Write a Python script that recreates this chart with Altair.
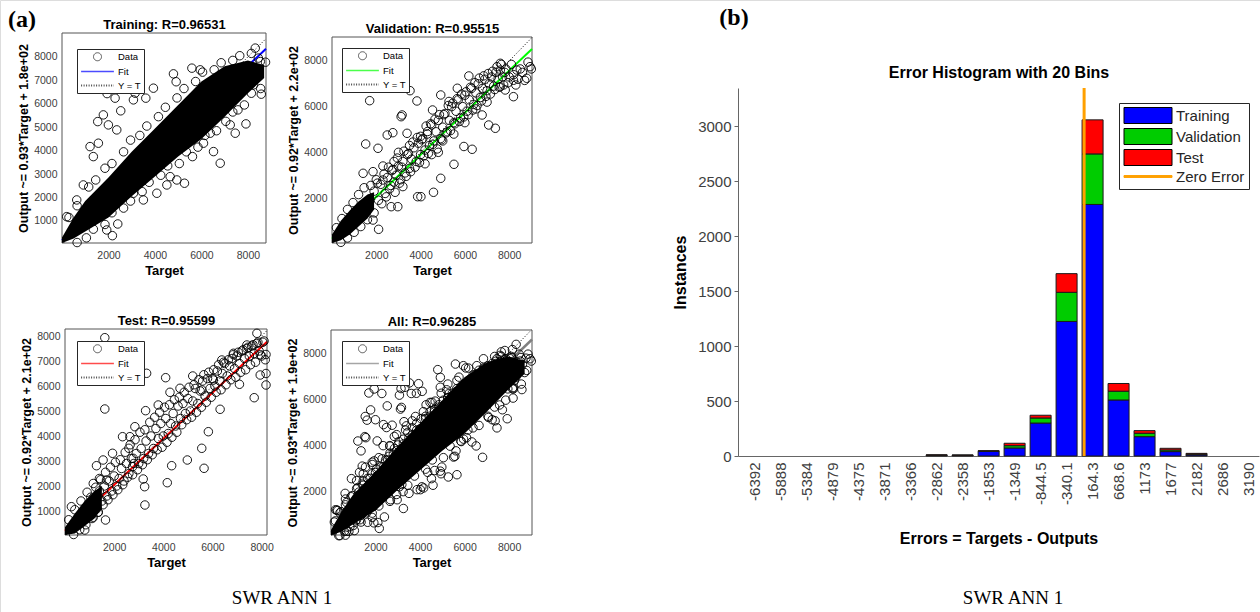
import altair as alt
import pandas as pd

FONT = "Liberation Sans"
SERIF = "Liberation Serif"
LABEL_GRAY = "#404040"
W_TOTAL, H_TOTAL = 1260, 612

# ---------------- Training panel ----------------
TR_X = [1538, 1566, 2528, 1940, 2285, 3074, 3146, 3935, 3607, 4797, 4913, 5590, 5948, 6810, 5271,
        4943, 4655, 3504, 3074, 2169, 1925, 2400, 7917, 8534, 8760, 8577, 8245, 7573, 7240, 7456,
        6380, 6521, 5616, 918, 634, 203, 1207, 1780, 1996, 2357, 1349, 4082, 4513, 6090, 6810,
        7672, 8318,
        300, 650, 1150, 1450, 1850, 2150, 2650, 2950, 3350, 3650, 4150, 4450, 4950, 5250, 5750,
        6050, 6550, 6850, 7350, 7650, 8150, 8450,
        650, 1050, 1350, 1850, 2150, 2650, 2950, 3450, 3750, 4250, 4550, 5050, 5350, 5850, 6150,
        6650, 7050, 7350, 7850, 8150, 8550]
TR_Y = [5240, 4318, 5700, 6435, 6240, 6167, 6453, 6666, 6240, 7277, 6940, 7520, 7448, 3464, 2610,
        2750, 2891, 1897, 2183, 373, 616, 872, 5142, 7802, 7774, 6410, 6807, 5740, 5100, 4745,
        4745, 3960, 3746, 2537, 1897, 1184, 4173, 5526, 5099, 4886, 3746, 2183, 2537, 4318, 5740,
        7162, 8375,
        1150, 1650, 2450, 2750, 3250, 3450, 3950, 4450, 4650, 5050, 5450, 5850, 6250, 6650, 6950,
        7350, 7450, 7750, 7850, 8050, 8150, 7950,
        80, 280, 650, 850, 1350, 1550, 1850, 2250, 2650, 2950, 3350, 3450, 3950, 4150, 4650,
        4850, 5250, 5650, 5950, 6450, 6650]
TR_BAND_X = [0, 500, 1000, 2000, 3000, 4000, 5000, 6000, 7000, 8000, 8700]
TR_BAND_LO = [60, 250, 550, 1150, 2050, 2900, 3750, 4500, 5450, 6450, 7100]
TR_BAND_HI = [300, 1150, 1850, 2850, 3950, 4950, 5950, 6950, 7600, 7850, 7650]

# ---------------- Validation panel ----------------
VA_X = [1700, 1521, 2493, 2747, 3120, 3165, 3523, 3836, 3388, 2076, 1404, 1852, 2300, 1852, 2104,
        2672, 2971, 3867, 4015, 4583, 4910, 5507, 6328, 6778, 7074, 7374, 8193, 7821, 8941, 9000,
        8792, 8345, 7597, 8193, 6179, 5658, 4910, 4539, 5283, 4315, 5955, 7597,
        1900, 2100, 2200, 2400, 2500, 2600, 2700, 2800, 2900, 3000, 3100, 3200, 3300, 3400, 3500,
        3600, 3700, 3800, 3900, 4000, 4100, 4200, 4300, 4400, 4500, 4600, 4700, 4800, 4900, 5000,
        5100, 5200, 5300, 5400, 5500, 5600, 5700, 5800, 5900, 6000, 6100, 6200, 6300, 6400, 6500,
        6600, 6700, 6800, 6900, 7000, 7100, 7200, 7300, 7400, 7500, 7600, 7700, 7800, 8000, 8200,
        8400, 8600,
        2000, 2300, 3000, 3500, 4000, 4500, 5000, 5500, 6000, 6500, 7000, 3200, 2800, 4200, 4800,
        2050, 2250, 2350, 2450, 2550, 2650, 2750, 2850, 2950, 3050, 3150, 3250, 3350, 3450, 3550,
        3650, 3750, 3850, 3950, 4050, 4150, 4250, 4350, 4450, 4550, 4650, 4750, 4850, 4950, 5050,
        5150, 5250, 5350, 5450, 5550, 5650, 5750, 5850, 5950, 6050, 6150, 6250, 6350, 6450, 6550,
        6650, 6750, 6850, 6950, 7050, 7150, 7250, 7350, 7450, 7550, 7650, 7750, 7850, 7950, 8100,
        8300, 8500, 8700, 8850,
        200, 450, 700, 950, 1200, 1450, 1750, 400, 700, 1000, 1300, 1600, 1900]
VA_Y = [6262, 4365, 4759, 4860, 5561, 5635, 6700, 6249, 4833, 4177, 3082, 3153, 2788, 1036, 629,
        1620, 1620, 2058, 2058, 2250, 2863, 3476, 4133, 5635, 5197, 5053, 6437, 6730, 7751, 7650,
        7243, 7606, 7898, 7155, 7344, 6805, 6511, 5854, 6227, 4912, 4256, 6875,
        2300, 1900, 2600, 2200, 2900, 2400, 3200, 2700, 3000, 3400, 2800, 3600, 3100, 3900, 3300,
        3700, 4200, 3600, 4400, 3900, 4600, 4100, 4800, 4300, 5200, 4500, 4900, 5400, 4600, 5100,
        5700, 4900, 5400, 6000, 5300, 5800, 6300, 5500, 6000, 6500, 5800, 6300, 6800, 6100, 6600,
        7000, 6400, 6800, 7200, 6700, 7000, 7300, 6900, 7500, 7200, 7600, 7300, 7500, 7300, 7400,
        7200, 7500,
        2800, 3400, 4000, 4300, 4700, 3900, 4500, 4800, 5300, 5900, 6200, 2500, 3600, 3500, 4000,
        2650, 1750, 3050, 2050, 3350, 2550, 3250, 2250, 3750, 2650, 3350, 4050, 2950, 3950, 3150,
        4450, 3350, 4650, 3550, 4550, 3850, 5150, 3950, 5250, 4350, 5450, 4150, 5650, 4550, 5650,
        4850, 6050, 4950, 6150, 5250, 6350, 5350, 6550, 5550, 6650, 5650, 6850, 5850, 7050, 6050,
        7250, 6250, 7350, 6450, 7450, 6550, 7550, 6750, 7750, 6850, 7850, 6950, 7650, 7050, 7850,
        6950, 7650, 7150, 7950,
        700, 1100, 1500, 1800, 2150, 2450, 2550, 60, 250, 500, 750, 1050, 1350]
VA_BAND_X = [0, 400, 800, 1200, 1600, 1900]
VA_BAND_LO = [30, 150, 400, 750, 1100, 1500]
VA_BAND_HI = [400, 1000, 1450, 1850, 2150, 2250]

# ---------------- Test panel ----------------
TE_X = [1620, 1620, 3321, 4096, 5198, 3280, 3794, 4272, 4680, 5565, 6038, 6381, 6854, 7401, 7809,
        8180, 7944, 7699, 7099, 6312, 5834, 5565, 5659, 4978, 4341, 4162, 3240, 3252, 3182, 2750,
        2774, 2342, 2640, 2844, 2599, 1934, 1281, 1550, 1689, 1648, 804, 261, 8180, 8180,
        1000, 1100, 1200, 1300, 1400, 1500, 1600, 1700, 1800, 1900, 2000, 2100, 2200, 2300, 2400,
        2500, 2600, 2700, 2800, 2900, 3000, 3100, 3200, 3300, 3400, 3500, 3600, 3700, 3800, 3900,
        4000, 4100, 4200, 4300, 4400, 4500, 4600, 4700, 4800, 4900, 5000, 5100, 5200, 5300, 5400,
        5500, 5600, 5700, 5800, 5900, 6000, 6100, 6200, 6300, 6400, 6500, 6600, 6700, 6800, 6900,
        7000, 7100, 7200, 7300, 7400, 7500, 7600, 7700, 7800, 7900, 8000, 8100,
        1050, 1150, 1250, 1350, 1450, 1550, 1650, 1750, 1850, 1950, 2050, 2150, 2250, 2350, 2450,
        2550, 2650, 2750, 2850, 2950, 3050, 3150, 3250, 3350, 3450, 3550, 3650, 3750, 3850, 3950,
        4050, 4150, 4250, 4350, 4450, 4550, 4650, 4750, 4850, 4950, 5050, 5150, 5250, 5350, 5450,
        5550, 5650, 5750, 5850, 5950, 6050, 6150, 6250, 6350, 6450, 6550, 6650, 6750, 6850, 6950,
        7050, 7150, 7250, 7350, 7450, 7550, 7650, 7750, 7850, 7950, 8050, 8150,
        150, 400, 650, 900, 1150, 1400, 350, 600, 850, 1100, 1350]
TE_Y = [7932, 5080, 6508, 6332, 6400, 5013, 5240, 5748, 5908, 5840, 6240, 7040, 7308, 7640, 8108,
        6040, 6440, 5532, 6068, 5068, 4172, 3508, 2708, 3040, 2812, 2132, 1972, 1240, 2280, 2772,
        3108, 3972, 3972, 4372, 3508, 3308, 2812, 3040, 2240, 640, 240, 1172, 7260, 6500,
        1300, 900, 1500, 1100, 1800, 1400, 2000, 1600, 2200, 1800, 2400, 2000, 2300, 2700, 2200,
        2900, 2500, 3100, 2900, 3300, 2900, 3500, 3100, 3800, 3300, 4000, 3500, 4300, 3900, 4500,
        4000, 4700, 4100, 4500, 4900, 4400, 5200, 4700, 5300, 4900, 5500, 5000, 5400, 5900, 5300,
        5800, 6200, 5600, 6300, 5900, 6300, 6000, 6600, 6200, 6500, 6900, 6400, 6800, 7100, 6700,
        7200, 6900, 7400, 7100, 7500, 7200, 7600, 7300, 7700, 7400, 7200, 7800,
        1550, 750, 1950, 950, 2250, 1250, 2550, 1450, 2750, 1650, 2950, 1850, 3050, 2050, 3350,
        2350, 3650, 2450, 3850, 2650, 4150, 2850, 4250, 3050, 4550, 3250, 4750, 3450, 4950, 3550,
        5150, 3750, 5250, 3950, 5450, 4150, 5550, 4450, 5750, 4650, 5950, 4750, 6050, 4950, 6250,
        5150, 6450, 5350, 6550, 5550, 6650, 5750, 6850, 5850, 6950, 6050, 7050, 6250, 7250, 6350,
        7350, 6550, 7450, 6650, 7550, 6850, 7650, 6950, 7750, 7250, 7750, 7050,
        650, 1050, 1400, 1750, 2100, 2300, 60, 250, 450, 700, 950]
TE_BAND_X = [0, 400, 800, 1200, 1500]
TE_BAND_LO = [40, 100, 400, 700, 1100]
TE_BAND_HI = [350, 900, 1400, 1800, 2000]

# ---------------- Error histogram ----------------
BIN_CENTERS = [-6392, -5888, -5384, -4879, -4375, -3871, -3366, -2862, -2358, -1853,
               -1349, -844.5, -340.1, 164.3, 668.6, 1173, 1677, 2182, 2686, 3190]
H_TRAIN = [0, 0, 0, 0, 0, 0, 0, 6, 5, 42, 73, 300, 1225, 2290, 510, 176, 40, 10, 0, 0]
H_VALID = [0, 0, 0, 0, 0, 0, 0, 2, 2, 3, 21, 46, 265, 460, 80, 31, 15, 7, 0, 0]
H_TEST = [0, 0, 0, 0, 0, 0, 0, 2, 2, 3, 22, 25, 170, 310, 70, 24, 15, 7, 0, 0]
SERIES = ["Training", "Validation", "Test", "Zero Error"]

LINE_PATH = "M-4.1,0H4.1"
RECT = "M-3,-1H3V1H-3Z"
THIN_RECT = "M-3,-0.12H3V0.12H-3Z"


def lin(domain, rng):
    return alt.Scale(domain=domain, range=rng, nice=False, zero=False)


def scatter_panel(title, px, py, bx, blo, bhi, xlim, ylo, yhi, a, b, fit_color, fit_width,
                  ytitle, yvals, x0, x1, ytop, ybot, lx, ly):
    pts = pd.DataFrame({"t": px, "o": py})
    band = pd.DataFrame({"t": bx, "lo": blo, "hi": bhi})
    ident_df = pd.DataFrame({"t": [max(0, ylo), min(xlim, yhi)]})
    fit_df = pd.DataFrame({"t": [0, xlim]})
    frame_df = pd.DataFrame({"a0": [0], "a1": [xlim], "b0": [ylo], "b1": [yhi]})
    leg = pd.DataFrame({"series": ["Data", "Fit", "Y = T"], "t": [-1e6] * 3, "o": [-1e6] * 3})
    xs = lin([0, xlim], [x0, x1])
    ys = lin([ylo, yhi], [ybot, ytop])
    xax = alt.Axis(orient="bottom", offset=ybot - H_TOTAL, values=[2000, 4000, 6000, 8000],
                   title="Target", format="d", grid=False, ticks=False, domain=False,
                   labelFontSize=10.5, labelColor=LABEL_GRAY, labelPadding=7, titleFontSize=13,
                   titleFontWeight="bold", titleColor="black", titlePadding=4,
                   labelFont=FONT, titleFont=FONT)
    yax = alt.Axis(orient="left", offset=-x0, values=yvals, title=ytitle, format="d", grid=False,
                   ticks=False, domain=False, labelFontSize=10.5, labelColor=LABEL_GRAY,
                   labelPadding=5, titleFontSize=12.5, titleFontWeight="bold", titleColor="black",
                   titlePadding=3, labelFont=FONT, titleFont=FONT)
    tax = alt.Axis(orient="top", offset=-ytop, title=title, labels=False, ticks=False,
                   domain=False, grid=False, titleFontSize=13, titleFontWeight="bold",
                   titleColor="black", titlePadding=2, titleFont=FONT)

    frame = alt.Chart(frame_df).mark_rect(fillOpacity=0, stroke="#555555", strokeWidth=1).encode(
        x=alt.X("a0:Q", scale=xs, axis=tax), x2="a1:Q",
        y=alt.Y("b0:Q", scale=ys, axis=None), y2="b1:Q")
    ident = alt.Chart(ident_df).mark_line(color="black", strokeDash=[1, 2], strokeWidth=1).encode(
        x=alt.X("t:Q", scale=xs, axis=None), y=alt.Y("t:Q", scale=ys, axis=None))
    fit = alt.Chart(fit_df).transform_calculate(f=f"{a}*datum.t+{b}").mark_line(
        color=fit_color, strokeWidth=fit_width).encode(
        x=alt.X("t:Q", scale=xs, axis=None), y=alt.Y("f:Q", scale=ys, axis=None))
    area = alt.Chart(band).mark_area(color="black").encode(
        x=alt.X("t:Q", scale=xs, axis=None), y=alt.Y("lo:Q", scale=ys, axis=None), y2="hi:Q")
    points = alt.Chart(pts).mark_point(filled=False, color="black", size=72, strokeWidth=0.9,
                                       opacity=1).encode(
        x=alt.X("t:Q", scale=xs, axis=xax), y=alt.Y("o:Q", scale=ys, axis=yax))
    L = alt.Legend(title=None, orient="none", legendX=lx, legendY=ly, padding=3,
                   fillColor="white", strokeColor="#262626", labelFontSize=9.5, labelColor="black",
                   labelFont=FONT, symbolSize=64, symbolStrokeWidth=1.4, symbolFillColor="white",
                   symbolOffset=12, labelOffset=15, rowPadding=3.5)
    dom = ["Data", "Fit", "Y = T"]
    legend = alt.Chart(leg).mark_point(filled=False, clip=True).encode(
        x=alt.X("t:Q", scale=xs, axis=None), y=alt.Y("o:Q", scale=ys, axis=None),
        shape=alt.Shape("series:N", scale=alt.Scale(domain=dom, range=["circle", LINE_PATH, LINE_PATH]), legend=L),
        stroke=alt.Stroke("series:N", scale=alt.Scale(domain=dom, range=["black", fit_color, "black"]), legend=L),
        strokeDash=alt.StrokeDash("series:N", scale=alt.Scale(domain=dom, range=[[1, 0], [1, 0], [1, 1.5]]), legend=L),
        strokeWidth=alt.StrokeWidth("series:N", scale=alt.Scale(domain=dom, range=[1, 2.2, 1]), legend=L),
    )
    return alt.layer(frame, ident, fit, area, points, legend).resolve_axis(x="independent", y="independent")


tr = scatter_panel("Training: R=0.96531", TR_X, TR_Y, TR_BAND_X, TR_BAND_LO, TR_BAND_HI,
                   8780, 60, 9020, 0.93, 180, "#0000ff", 2, "Output ~= 0.93*Target + 1.8e+02",
                   [1000, 2000, 3000, 4000, 5000, 6000, 7000, 8000], 62, 266, 33, 243, 77, 49)
va = scatter_panel("Validation: R=0.95515", VA_X, VA_Y, VA_BAND_X, VA_BAND_LO, VA_BAND_HI,
                   9030, 30, 9050, 0.92, 220, "#00ff00", 2, "Output ~= 0.92*Target + 2.2e+02",
                   [2000, 4000, 6000, 8000], 332, 532, 37, 243, 342, 48)
te = scatter_panel("Test: R=0.95599", TE_X, TE_Y, TE_BAND_X, TE_BAND_LO, TE_BAND_HI,
                   8220, 40, 8280, 0.92, 210, "#ff0000", 2, "Output ~= 0.92*Target + 2.1e+02",
                   [1000, 2000, 3000, 4000, 5000, 6000, 7000, 8000], 65, 267, 329, 535, 77, 341)
al = scatter_panel("All: R=0.96285", TR_X + VA_X + TE_X, TR_Y + VA_Y + TE_Y,
                   TR_BAND_X, TR_BAND_LO, TR_BAND_HI,
                   9030, 87, 9000, 0.93, 190, "#808080", 2.5, "Output ~= 0.93*Target + 1.9e+02",
                   [2000, 4000, 6000, 8000], 331, 532, 330, 535, 342, 341)

# ---------------- Histogram ----------------
rows = []
for c, t, v, s in zip(BIN_CENTERS, H_TRAIN, H_VALID, H_TEST):
    rows.append({"c": c, "s": "Training", "n": t, "k": 0})
    rows.append({"c": c, "s": "Validation", "n": v, "k": 1})
    rows.append({"c": c, "s": "Test", "n": s, "k": 2})
hist_df = pd.DataFrame(rows)

HX0, HX1, HYT, HYB = 738, 1259, 88, 456
HX = lin([-6620, 3297], [HX0, HX1])
HY = lin([0, 3350], [HYB, HYT])
hx_axis = alt.Axis(orient="bottom", offset=HYB - H_TOTAL, values=BIN_CENTERS,
                   labelExpr="'' + datum.value", labelAngle=-90, title="Errors = Targets - Outputs",
                   grid=False, ticks=False, domainColor="#666666", labelFontSize=15,
                   labelColor=LABEL_GRAY, labelPadding=6, titleFontSize=16, titleFontWeight="bold",
                   titleColor="black", titlePadding=26, labelFont=FONT, titleFont=FONT,
                   labelOverlap=False)
hy_axis = alt.Axis(orient="left", offset=-HX0, values=[0, 500, 1000, 1500, 2000, 2500, 3000],
                   format="d", title="Instances", grid=False, tickSize=4, tickColor="#666666",
                   domainColor="#666666", labelFontSize=15, labelColor=LABEL_GRAY, labelPadding=3,
                   titleFontSize=16, titleFontWeight="bold", titleColor="black", titlePadding=9,
                   labelFont=FONT, titleFont=FONT)
ht_axis = alt.Axis(orient="top", offset=-HYT, title="Error Histogram with 20 Bins", labels=False,
                   ticks=False, domain=False, grid=False, titleFontSize=16, titleFontWeight="bold",
                   titleColor="black", titlePadding=8, titleFont=FONT)
HL = alt.Legend(title=None, orient="none", legendX=1119, legendY=103, padding=4, fillColor="white",
                strokeColor="#262626", labelFontSize=15, labelColor="#262626", labelFont=FONT,
                symbolSize=256, symbolStrokeWidth=1, symbolOffset=16.5, labelOffset=19.5,
                rowPadding=0)
fill_scale = alt.Scale(domain=SERIES, range=["#0000ff", "#00cc00", "#ff0000", "#ffa000"])
bars = alt.Chart(hist_df).transform_filter("datum.n > 0").mark_bar(
    size=21, stroke="#1a1a1a", strokeWidth=1).encode(
    x=alt.X("c:Q", scale=HX, axis=hx_axis),
    y=alt.Y("n:Q", stack="zero", scale=HY, axis=hy_axis),
    fill=alt.Fill("s:N", scale=fill_scale, legend=HL),
    order=alt.Order("k:Q"),
)
zero = alt.Chart(pd.DataFrame({"c": [0], "lo": [0], "hi": [3350]})).mark_rule(
    color="#ffa000", strokeWidth=3).encode(
    x=alt.X("c:Q", scale=HX, axis=ht_axis),
    y=alt.Y("lo:Q", scale=HY, axis=None), y2="hi:Q")
hleg_df = pd.DataFrame({"s": SERIES, "c": [-1e6] * 4, "n": [0] * 4})
hleg = alt.Chart(hleg_df).mark_point(filled=True, clip=True, opacity=1).encode(
    x=alt.X("c:Q", scale=HX, axis=None),
    y=alt.Y("n:Q", scale=HY, axis=None),
    fill=alt.Fill("s:N", scale=fill_scale, legend=HL),
    stroke=alt.Stroke("s:N", scale=alt.Scale(domain=SERIES, range=["#000000", "#000000", "#000000", "#ffa000"]), legend=HL),
    shape=alt.Shape("s:N", scale=alt.Scale(domain=SERIES, range=[RECT, RECT, RECT, THIN_RECT]), legend=HL),
)
hist = alt.layer(bars, zero, hleg).resolve_axis(x="independent", y="independent")

# ---------------- Panel labels and captions ----------------
PANEL_LABELS = ["(a)", "(b)"]
CAPTIONS = ["SWR ANN 1", "SWR ANN 1"]
lab_a = alt.Chart(pd.DataFrame({"s": [PANEL_LABELS[0]]})).mark_text(
    font=SERIF, fontSize=24, fontWeight="bold", color="black", align="center", baseline="middle").encode(
    text="s:N", x=alt.value(22), y=alt.value(20))
lab_b = alt.Chart(pd.DataFrame({"s": [PANEL_LABELS[1]]})).mark_text(
    font=SERIF, fontSize=24, fontWeight="bold", color="black", align="center", baseline="middle").encode(
    text="s:N", x=alt.value(734), y=alt.value(18))
cap_a = alt.Chart(pd.DataFrame({"s": [CAPTIONS[0]]})).mark_text(
    font=SERIF, fontSize=19, color="black", align="center", baseline="middle").encode(
    text="s:N", x=alt.value(282), y=alt.value(598))
cap_b = alt.Chart(pd.DataFrame({"s": [CAPTIONS[1]]})).mark_text(
    font=SERIF, fontSize=19, color="black", align="center", baseline="middle").encode(
    text="s:N", x=alt.value(1013), y=alt.value(598))

IND = dict(x="independent", y="independent", fill="independent", stroke="independent",
           shape="independent", strokeDash="independent", strokeWidth="independent")

chart = alt.layer(tr, va, te, al, hist, lab_a, lab_b, cap_a, cap_b).resolve_scale(**IND).properties(
    width=W_TOTAL, height=H_TOTAL,
    autosize=alt.AutoSizeParams(type="none"),
    padding=0,
    background="white",
).configure_view(stroke="transparent", strokeWidth=0).configure(font=FONT)

chart.save("out.html", embed_options={"renderer": "svg", "actions": False})
